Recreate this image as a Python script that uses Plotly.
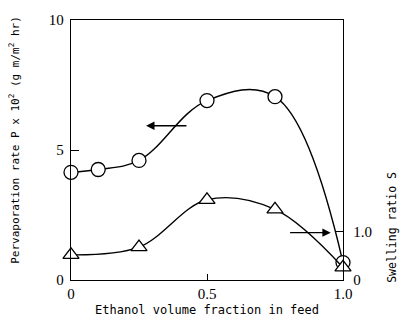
import plotly.graph_objects as go

# Data
x_p = [0, 0.1, 0.25, 0.5, 0.75, 1.0]
p_rate = [4.14, 4.25, 4.6, 6.9, 7.05, 0.67]          # pervaporation rate P x 10^2

x_s = [0, 0.25, 0.5, 0.75, 1.0]
swell = [0.52, 0.68, 1.66, 1.46, 0.26]               # swelling ratio S

left_ticks = [0, 5, 10]
left_ticktext = ["0", "5", "10"]
x_ticks = [0, 0.5, 1.0]
x_ticktext = ["0", "0.5", "1.0"]
right_ticks = [0, 1.0]
right_ticktext = ["0", "1.0"]

mono = "DejaVu Sans Mono"
serif = "Liberation Serif"

W, H = 401, 327
L, R, T, B = 71, 58, 17, 41
plot_w = W - L - R
plot_h = H - T - B

def px_x(px):
    return (px - L) / plot_w

def px_y(py):
    return (H - B - py) / plot_h

fig = go.Figure()
fig.add_trace(go.Scatter(
    x=x_p, y=p_rate, mode="lines+markers",
    line=dict(color="black", width=1.4, shape="spline", smoothing=1.1),
    marker=dict(symbol="circle", size=14, color="white", line=dict(color="black", width=1.3)),
    cliponaxis=False, showlegend=False, hoverinfo="skip"))
fig.add_trace(go.Scatter(
    x=x_s, y=swell, mode="lines+markers", yaxis="y2",
    line=dict(color="black", width=1.4, shape="spline", smoothing=1.0),
    marker=dict(symbol="triangle-up", size=14, color="white", line=dict(color="black", width=1.3)),
    cliponaxis=False, showlegend=False, hoverinfo="skip"))

fig.update_layout(
    width=W, height=H,
    margin=dict(l=L, r=R, t=T, b=B),
    paper_bgcolor="white", plot_bgcolor="white",
    xaxis=dict(range=[0, 1.0], tickvals=x_ticks, ticktext=x_ticktext,
               ticks="inside", ticklen=6, tickcolor="black", tickwidth=1.3,
               showgrid=False, zeroline=False, showline=True, linecolor="black",
               linewidth=1.4, mirror=True,
               tickfont=dict(family=serif, size=15, color="black"),
               title=dict(text="Ethanol volume fraction in feed",
                          font=dict(family=mono, size=12, color="black"), standoff=4)),
    yaxis=dict(range=[0, 10], tickvals=left_ticks, ticktext=left_ticktext,
               ticks="inside", ticklen=8, tickcolor="black", tickwidth=1.3,
               showgrid=False, zeroline=False, showline=True, linecolor="black",
               linewidth=1.4, ticklabelstandoff=3,
               tickfont=dict(family=serif, size=15, color="black")),
    yaxis2=dict(range=[0, 5.38], overlaying="y", side="right",
                tickvals=right_ticks, ticktext=right_ticktext,
                ticks="inside", ticklen=8, tickcolor="black", tickwidth=1.3,
                showgrid=False, zeroline=False, showline=True, linecolor="black",
                linewidth=1.4, ticklabelstandoff=6,
                tickfont=dict(family=serif, size=15, color="black")),
    annotations=[
        dict(x=0.276, y=5.93, xref="x", yref="y", ax=0.43, ay=5.93, axref="x", ayref="y",
             showarrow=True, arrowhead=2, arrowsize=1.2, arrowwidth=1.4, arrowcolor="black", text=""),
        dict(x=0.955, y=0.98, xref="x", yref="y2", ax=0.80, ay=0.98, axref="x", ayref="y2",
             showarrow=True, arrowhead=2, arrowsize=1.2, arrowwidth=1.4, arrowcolor="black", text=""),
        dict(x=px_x(392), y=px_y(232), xref="paper", yref="paper", text="Swelling ratio S",
             showarrow=False, textangle=-90, xanchor="center", yanchor="middle",
             font=dict(family=mono, size=11.5, color="black")),
        dict(x=px_x(15), y=px_y(141), xref="paper", yref="paper",
             text="Pervaporation rate P x 10<sup>2</sup> (g m/m<sup>2</sup> hr)",
             showarrow=False, textangle=-90, xanchor="center", yanchor="middle",
             font=dict(family=mono, size=11, color="black")),
    ],
)

fig.write_html("out.html", config={"displayModeBar": False},
               post_script="document.body.style.margin='0';document.body.style.overflow='hidden';")
